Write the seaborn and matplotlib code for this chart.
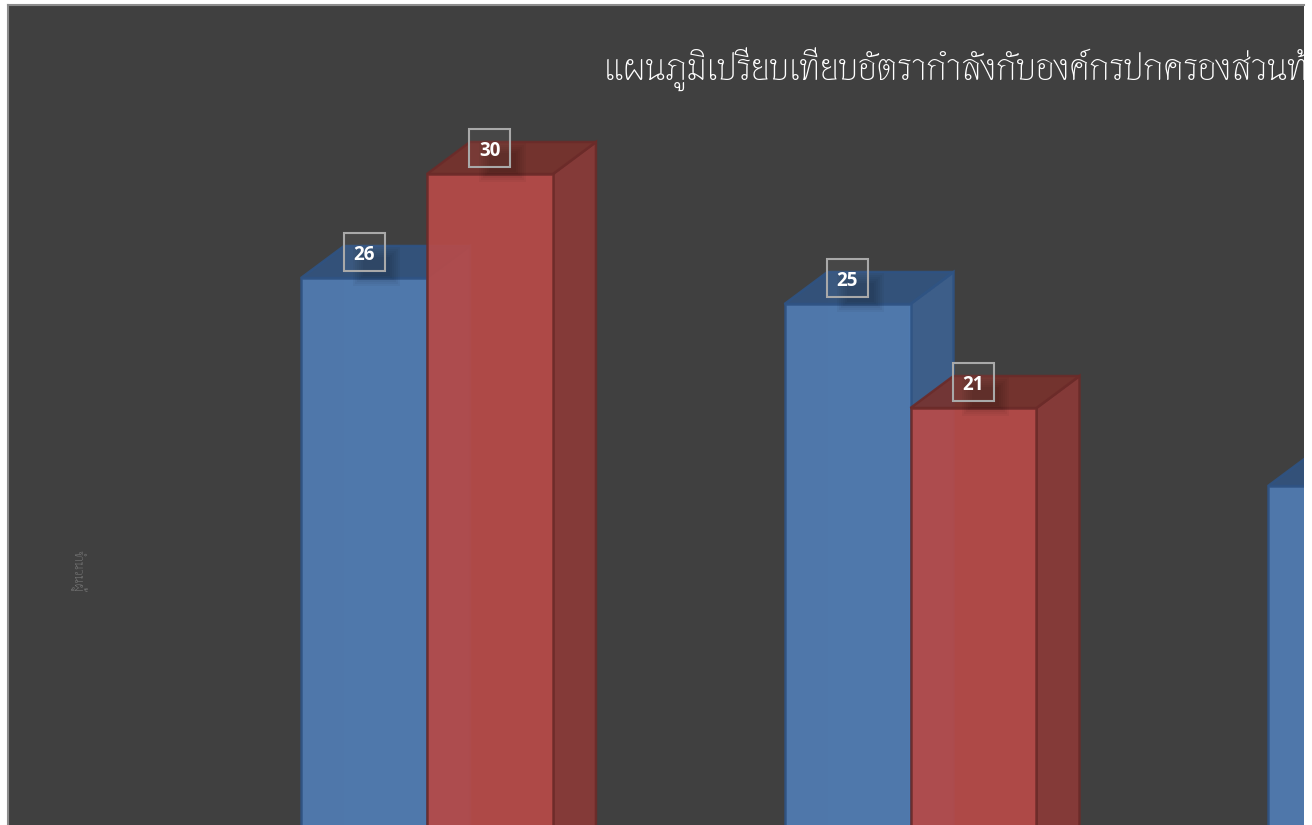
import math

import matplotlib
matplotlib.use("Agg")
import matplotlib.pyplot as plt
import pandas as pd
import seaborn as sns
from matplotlib.patches import Polygon, Rectangle

groups = ["กลุ่ม 1", "กลุ่ม 2", "กลุ่ม 3"]
series_a = [26, 25, 18]
series_b = [30, 21, float("nan")]
title = "แผนภูมิเปรียบเทียบอัตรากำลังกับองค์กรปกครองส่วนท้องถิ่น"
y_label = "จำนวนผู้"

df = pd.DataFrame({
    "group": groups * 2,
    "series": ["a"] * 3 + ["b"] * 3,
    "value": series_a + series_b,
})

# px sizes of the chart area, used to turn offsets into data units
PX_X = 1 / 483.5
PX_Y = 1 / 26
DEPTH_X = 43 * PX_X
DEPTH_Y = 32 * PX_Y

styles = {
    "front": ["#517EB7", "#BA4B48"],
    "side": ["#3D6291", "#8B3A38"],
    "top": ["#325480", "#78322D"],
    "edge": ["#2F5383", "#6B2B29"],
}

sns.set_theme(style="dark")
plt.rcParams["font.family"] = ["Thasadith", "Niramit", "DejaVu Sans"]

fig = plt.figure(figsize=(13.12, 8.25), dpi=100, facecolor="white")
ax = fig.add_axes([8 / 1312, 0, 1296 / 1312, 820 / 825], facecolor="#404040")

sns.barplot(
    data=df, x="group", y="value", hue="series",
    palette=styles["front"], saturation=1, width=0.521, gap=0,
    alpha=0.9, legend=False, ax=ax,
)

bars = [b for b in ax.patches if math.isfinite(b.get_height()) and b.get_height() > 0]
n_a = sum(math.isfinite(v) for v in series_a)

for i, bar in enumerate(bars):
    s = 0 if i < n_a else 1
    x0, w, h = bar.get_x(), bar.get_width(), bar.get_height()
    edge = styles["edge"][s]
    z = 3 + (i % n_a if s == 0 else i) * 0.01 + s
    lw = 1.8

    # back wall shows faintly through the front of the box
    ax.add_patch(Rectangle((x0 + DEPTH_X, DEPTH_Y), w, h, fc=styles["side"][s],
                           ec="none", alpha=0.12, zorder=z))
    ax.add_patch(Polygon([(x0 + w, 0), (x0 + w + DEPTH_X, DEPTH_Y),
                          (x0 + w + DEPTH_X, h + DEPTH_Y), (x0 + w, h)],
                         fc=styles["side"][s], ec=edge, lw=lw, alpha=0.9, zorder=z + 0.001))
    ax.add_patch(Polygon([(x0, h), (x0 + DEPTH_X, h + DEPTH_Y),
                          (x0 + w + DEPTH_X, h + DEPTH_Y), (x0 + w, h)],
                         fc=styles["top"][s], ec=edge, lw=lw, alpha=0.9, zorder=z + 0.002))
    bar.set_edgecolor(edge)
    bar.set_linewidth(lw)
    bar.set_zorder(z + 0.003)

    # label box, its soft shadow on the bar and the number
    cx = x0 + w / 2
    cy = h + 26.5 * PX_Y
    for k in range(6):
        ax.add_patch(Rectangle(
            (cx + (-11 + 2 * k) * PX_X, h + (-8 + 2 * k) * PX_Y),
            (47 - 4 * k) * PX_X, (39 - 4 * k) * PX_Y,
            fc="black", ec="none", alpha=0.035, zorder=z + 0.004,
        ))
    ax.add_patch(Rectangle((cx - 20.5 * PX_X, cy - 19 * PX_Y), 41 * PX_X, 38 * PX_Y,
                           fc=(1, 1, 1, 0.04), ec="#A9A9A9", lw=1.5, zorder=9))
    ax.text(cx, cy - 1 * PX_Y, f"{h:.0f}", ha="center", va="center_baseline", color="white",
            family="Open Sans", fontweight="bold", fontsize=13.5, zorder=10)

ax.set_xlim((8 - 427) * PX_X, (1304 - 427) * PX_X)
ax.set_ylim((954 - 825) * PX_Y, (954 - 5) * PX_Y)
ax.set_xticks([])
ax.set_yticks([])
ax.set_xlabel("")

ax.set_ylabel(y_label, rotation=-90, fontsize=10, color="#7F7F7F",
              va="center", ha="center")
ax.yaxis.set_label_coords(70 / 1296, 0.31)

ax.text(596 / 1296, 744 / 820, title, transform=ax.transAxes, color="white",
        fontsize=26.3, va="baseline", ha="left", clip_on=True)

for side in ["right", "bottom"]:
    ax.spines[side].set_visible(False)
for side in ["top", "left"]:
    ax.spines[side].set_visible(True)
    ax.spines[side].set_color("#8C8C8C")
    ax.spines[side].set_linewidth(1.5)

fig.savefig("out.png", dpi=100, facecolor="white")
